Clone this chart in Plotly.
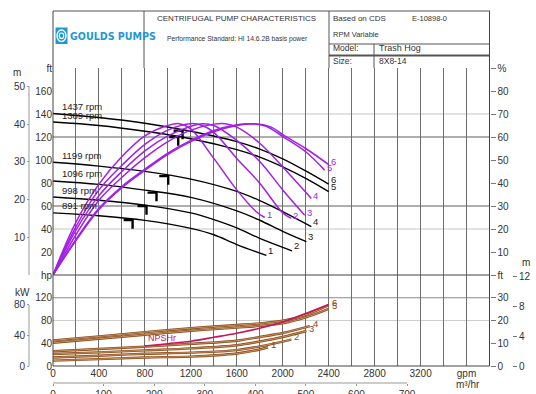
import plotly.graph_objects as go

# ---------------- data ----------------
gpm_ticks = [0, 400, 800, 1200, 1600, 2000, 2400, 2800, 3200, 3600]
gpm_text = ["0", "400", "800", "1200", "1600", "2000", "2400", "2800", "3200", "gpm"]
m3h_ticks = [0, 100, 200, 300, 400, 500, 600, 700]
ft_ticks = [20, 40, 60, 80, 100, 120, 140, 160, 180]
ft_text = ["20", "40", "60", "80", "100", "120", "140", "160", "ft"]
pct_ticks = [10, 20, 30, 40, 50, 60, 70, 80, 90]
pct_text = ["10", "20", "30", "40", "50", "60", "70", "80", "%"]
m_ticks = [10, 20, 30, 40, 50]
hp_ticks = [0, 40, 80, 120, 160]
hp_text = ["0", "40", "80", "120", "hp"]
kw_ticks = [0, 40, 80]
npsh_ft_ticks = [0, 10, 20, 30, 40]
npsh_ft_text = ["0", "10", "20", "30", "ft"]
npsh_m_ticks = [0, 4, 8, 12]

speeds = ["891 rpm", "998 rpm", "1096 rpm", "1199 rpm", "1389 rpm", "1437 rpm"]
curve_no = ["1", "2", "3", "4", "5", "6"]

# head (ft) vs flow (gpm)
head1_q = [0, 400, 800, 1200, 1400, 1600, 1858]
head1_ft = [54, 51.5, 47.5, 40.5, 35, 26.5, 17]
head2_q = [0, 400, 800, 1200, 1400, 1600, 1800, 2081]
head2_ft = [67.8, 65, 60.8, 54, 48.2, 41, 31.8, 21]
head3_q = [0, 400, 800, 1200, 1600, 1800, 2000, 2206]
head3_ft = [81.8, 78.8, 73.8, 67.5, 55.8, 47.6, 38, 29]
head4_q = [0, 400, 800, 1200, 1600, 1800, 2000, 2249]
head4_ft = [98, 94.7, 90.1, 83.4, 72.7, 64.7, 55.1, 42]
head5_q = [0, 400, 800, 1200, 1600, 1800, 2000, 2200, 2400]
head5_ft = [133, 130, 125, 118.5, 109, 102.5, 94, 84, 72.5]
head6_q = [0, 400, 800, 1200, 1600, 1800, 2000, 2200, 2400]
head6_ft = [140.5, 137, 132, 125, 116, 109.5, 101, 90.5, 79]

# efficiency (%) vs flow (gpm)
eff1_q = [0, 200, 400, 600, 800, 1000, 1100, 1200, 1400, 1600, 1770, 1843]
eff1_pct = [0, 23, 39.5, 51.5, 60.5, 65, 65.8, 63.5, 50.7, 37, 27.5, 25]
eff2_q = [0, 200, 400, 600, 800, 1000, 1200, 1300, 1400, 1600, 1800, 2000, 2075]
eff2_pct = [0, 21, 37, 47.7, 56.8, 63, 65.8, 65, 62, 50.7, 39.9, 27, 24.6]
eff3_q = [0, 200, 400, 600, 800, 1000, 1200, 1300, 1400, 1600, 1800, 2000, 2191]
eff3_pct = [0, 19.5, 34.5, 45, 54, 60.5, 64.7, 65.8, 65, 58.5, 49.3, 37, 26]
eff4_q = [0, 200, 400, 600, 800, 1000, 1200, 1400, 1500, 1600, 1800, 2000, 2249]
eff4_pct = [0, 17.5, 32.5, 42.5, 51, 58, 63, 65.6, 65.8, 64.3, 57.3, 47, 33.3]
eff5_q = [0, 200, 400, 600, 800, 1000, 1200, 1400, 1600, 1700, 1850, 2000, 2200, 2365]
eff5_pct = [0, 15.5, 29, 38.5, 46, 53, 58.5, 62.8, 65.3, 65.8, 64.8, 60.2, 53.6, 45.6]
eff6_q = [0, 200, 400, 600, 800, 1000, 1200, 1400, 1600, 1750, 1900, 2000, 2200, 2400]
eff6_pct = [0, 15, 28.5, 38, 45.5, 52.5, 58, 62.3, 65, 65.8, 64.3, 61, 55, 48]

# power (hp) vs flow (gpm)
pow1_q = [0, 400, 800, 1200, 1600, 1800, 1872]
pow1_hp = [9.5, 12, 15, 16.5, 22, 29, 33]
pow2_q = [0, 400, 800, 1200, 1600, 1800, 2075]
pow2_hp = [15, 18, 21.5, 23.5, 28, 34.5, 46.5]
pow3_q = [0, 400, 800, 1200, 1600, 1800, 2000, 2206]
pow3_hp = [21, 24, 27.5, 31, 36.5, 43, 51, 61.5]
pow4_q = [0, 400, 800, 1200, 1600, 1800, 2000, 2235]
pow4_hp = [26, 30, 34, 39, 44.5, 51, 58, 70]
pow5_q = [0, 400, 800, 1200, 1600, 1800, 2000, 2200, 2400]
pow5_hp = [41, 48, 55, 62, 67.5, 70.5, 75, 85.5, 100.5]
pow6_q = [0, 400, 800, 1200, 1600, 1800, 2000, 2200, 2400]
pow6_hp = [45, 52, 59.5, 66.5, 72, 75, 79.5, 90, 107]

# NPSHr (ft) vs flow (gpm)
npsh_q = [800, 1000, 1200, 1400, 1600, 1800, 2000, 2200, 2400]
npsh_ft = [8.8, 9.8, 10.9, 12.6, 14.4, 16.6, 19.3, 23.1, 27]

# best-efficiency markers on the head curves
bep_q = [693, 814, 901, 1003, 1090, 1128]
bep_ft = [47.8, 60, 71.6, 86, 120, 125.5]

head_q = [head1_q, head2_q, head3_q, head4_q, head5_q, head6_q]
head_ft = [head1_ft, head2_ft, head3_ft, head4_ft, head5_ft, head6_ft]
eff_q = [eff1_q, eff2_q, eff3_q, eff4_q, eff5_q, eff6_q]
eff_pct = [eff1_pct, eff2_pct, eff3_pct, eff4_pct, eff5_pct, eff6_pct]
pow_q = [pow1_q, pow2_q, pow3_q, pow4_q, pow5_q, pow6_q]
pow_hp = [pow1_hp, pow2_hp, pow3_hp, pow4_hp, pow5_hp, pow6_hp]

# ---------------- layout helpers ----------------
W, H = 536, 394


def px(v):
    return v / W


def py(v):
    return 1 - v / H


FT_PER_M = 3.28084
GPM_PER_M3H = 4.40287
KW_PER_HP = 0.7457
X_MAX = 3800

PURPLE = "#A21FE6"
BROWN = "#8B4A1C"
TAN = "#DDB07A"
CRIMSON = "#C4145C"
GRID = "#6e6e6e"
FONT = "Arial, Liberation Sans, sans-serif"
TXT = "#333333"

fig = go.Figure()

# head curves
for i in range(6):
    fig.add_trace(go.Scatter(x=head_q[i], y=head_ft[i], mode="lines",
                             line=dict(color="black", width=1.4, shape="spline"),
                             xaxis="x", yaxis="y", hoverinfo="skip", showlegend=False))

# BEP glyphs
dq, dh = 78, 7.5
gx, gy = [], []
for q, h in zip(bep_q, bep_ft):
    gx += [q - dq, q, q, None]
    gy += [h, h, h - dh, None]
fig.add_trace(go.Scatter(x=gx, y=gy, mode="lines", line=dict(color="black", width=2.4),
                         xaxis="x", yaxis="y", hoverinfo="skip", showlegend=False))

# efficiency curves
for i in range(6):
    fig.add_trace(go.Scatter(x=eff_q[i], y=eff_pct[i], mode="lines",
                             line=dict(color=PURPLE, width=1.5, shape="spline"),
                             xaxis="x", yaxis="y2", hoverinfo="skip", showlegend=False))

# power curves (double line look)
for i in range(6):
    fig.add_trace(go.Scatter(x=pow_q[i], y=pow_hp[i], mode="lines",
                             line=dict(color=BROWN, width=2.4, shape="spline"),
                             xaxis="x", yaxis="y4", hoverinfo="skip", showlegend=False))
    fig.add_trace(go.Scatter(x=pow_q[i], y=pow_hp[i], mode="lines",
                             line=dict(color=TAN, width=0.7, shape="spline"),
                             xaxis="x", yaxis="y4", hoverinfo="skip", showlegend=False))

# NPSHr
fig.add_trace(go.Scatter(x=npsh_q, y=npsh_ft, mode="lines",
                         line=dict(color=CRIMSON, width=1.6, shape="spline"),
                         xaxis="x", yaxis="y6", hoverinfo="skip", showlegend=False))

# dummy traces so that secondary axes render
for xa, ya in [("x", "y3"), ("x", "y5"), ("x", "y7"), ("x2", "y4")]:
    fig.add_trace(go.Scatter(x=[None], y=[None], xaxis=xa, yaxis=ya, mode="lines",
                             hoverinfo="skip", showlegend=False))

ann = []
# rpm labels
for i in range(6):
    ann.append(dict(x=60, y=head_ft[i][0], xref="x", yref="y", text=speeds[i],
                    xanchor="left", yanchor="middle", yshift=7, showarrow=False,
                    font=dict(size=9.5, color="#222", family=FONT)))
# end labels
for i in range(6):
    ann.append(dict(x=head_q[i][-1], y=head_ft[i][-1], xref="x", yref="y", text=curve_no[i],
                    xanchor="left", yanchor="middle", xshift=0, yshift=5, showarrow=False,
                    font=dict(size=9.5, color="#222", family=FONT)))
    ann.append(dict(x=eff_q[i][-1], y=eff_pct[i][-1], xref="x", yref="y2", text=curve_no[i],
                    xanchor="left", yanchor="middle", xshift=0, yshift=3, showarrow=False,
                    font=dict(size=9.5, color=PURPLE, family=FONT)))
    ann.append(dict(x=pow_q[i][-1], y=pow_hp[i][-1], xref="x", yref="y4", text=curve_no[i],
                    xanchor="left", yanchor="middle", xshift=1, yshift=3, showarrow=False,
                    font=dict(size=9.5, color=BROWN, family=FONT)))
ann.append(dict(x=npsh_q[0], y=npsh_ft[0], xref="x", yref="y6", text="NPSHr",
                xanchor="left", yanchor="middle", xshift=1, yshift=8, showarrow=False,
                font=dict(size=9, color=CRIMSON, family=FONT)))

# axis titles / units
def note(x, y, text, size=10, color=TXT, xanchor="center", family=FONT):
    ann.append(dict(x=px(x), y=py(y), xref="paper", yref="paper", text=text,
                    xanchor=xanchor, yanchor="middle", showarrow=False,
                    font=dict(size=size, color=color, family=family)))


note(17, 73, "m")
note(22, 292, "kW")
note(526, 262, "m")
note(468, 384, "m³/hr")

# header texts
note(236.5, 19, "CENTRIFUGAL PUMP CHARACTERISTICS", size=8)
note(237, 39, "Performance Standard: HI 14.6.2B basis power", size=6.7)
note(331, 18.5, "Based on CDS", size=8, xanchor="left")
note(410, 18.5, "E-10898-0", size=7.5, xanchor="left")
note(331, 34, "RPM Variable", size=7.5, xanchor="left")
note(331, 48.5, "Model:", size=8.5, xanchor="left")
note(377, 48.5, "Trash Hog", size=9, xanchor="left")
note(331, 61, "Size:", size=8.5, xanchor="left")
note(377, 61, "8X8-14", size=8.5, xanchor="left")
note(68, 35.5, "<b>GOULDS PUMPS</b>", size=10.6, color="#1E98D5", xanchor="left",
     family="DejaVu Sans Condensed, Liberation Sans Narrow, Arial")

shapes = []


def pline(x0, y0, x1, y1, color="#555", width=1, layer="above"):
    shapes.append(dict(type="line", xref="paper", yref="paper", x0=px(x0), y0=py(y0),
                       x1=px(x1), y1=py(y1), line=dict(color=color, width=width), layer=layer))


# header frame
pline(53, 11, 490, 11)
pline(144, 11, 144, 68)
pline(329, 11, 329, 68)
pline(329, 44, 490, 44)
pline(329, 55.5, 490, 55.5, width=1.8)
pline(374, 44, 374, 68)
# plot frame
pline(53, 11, 53, 366, color="#444")
pline(489.5, 11, 489.5, 366, color="#444")
pline(53, 366, 489.5, 366, color="#444")
pline(53, 275, 489.5, 275, color="#444", width=1.2)

# logo icon
shapes.append(dict(type="rect", xref="paper", yref="paper", x0=px(55.5), x1=px(67.5),
                   y0=py(44), y1=py(27.5), fillcolor="#1E98D5", line=dict(width=0)))
shapes.append(dict(type="circle", xref="paper", yref="paper", x0=px(57), x1=px(66),
                   y0=py(41.5), y1=py(30), line=dict(color="white", width=1.4)))
shapes.append(dict(type="circle", xref="paper", yref="paper", x0=px(59.3), x1=px(63.7),
                   y0=py(38.5), y1=py(33), line=dict(color="white", width=1.2)))

# horizontal grid lines
for val, col in [(140, "#c4c4c4"), (120, "#5e5e5e"), (60, "#5e5e5e"), (40, "#c4c4c4")]:
    shapes.append(dict(type="line", xref="paper", yref="y", x0=px(53), x1=px(489.5),
                       y0=val, y1=val, line=dict(color=col, width=1), layer="below"))
for val, col in [(120, "#8a8a8a"), (80, "#cfcfcf")]:
    shapes.append(dict(type="line", xref="paper", yref="y4", x0=px(53), x1=px(489.5),
                       y0=val, y1=val, line=dict(color=col, width=1), layer="below"))
# secondary axis lines (partial)
shapes.append(dict(type="line", xref="paper", yref="y3", x0=px(29), x1=px(29), y0=0, y1=50,
                   line=dict(color="#999", width=1)))
shapes.append(dict(type="line", xref="paper", yref="y5", x0=px(29), x1=px(29), y0=0, y1=80,
                   line=dict(color="#999", width=1)))
shapes.append(dict(type="line", xref="x2", yref="paper", x0=0, x1=700, y0=py(383), y1=py(383),
                   line=dict(color="#999", width=1)))

tickfont = dict(size=10, color=TXT, family=FONT)
up_dom = [py(275), py(68)]
lo_dom = [py(366), py(275)]
common = dict(automargin=False, zeroline=False, showline=False, showgrid=False, tickfont=tickfont)

fig.update_layout(
    width=W, height=H, margin=dict(l=0, r=0, t=0, b=0, pad=0, autoexpand=False),
    paper_bgcolor="white", plot_bgcolor="rgba(0,0,0,0)",
    font=dict(family=FONT, color=TXT),
    showlegend=False,
    xaxis=dict(domain=[px(53), px(489.5)], range=[0, X_MAX], anchor="y4",
               tickvals=gpm_ticks, ticktext=gpm_text, tickfont=tickfont, automargin=False,
               showgrid=True, gridcolor=GRID, gridwidth=1, zeroline=False, showline=False,
               ticks="", minor=dict(tick0=0, dtick=200, showgrid=True, gridcolor=GRID, gridwidth=1)),
    xaxis2=dict(overlaying="x", anchor="free", position=py(383), side="bottom",
                range=[0, X_MAX / GPM_PER_M3H], tickvals=m3h_ticks,
                ticks="outside", ticklen=2, tickcolor="#999", **common),
    yaxis=dict(domain=up_dom, range=[0, 180], anchor="x", tickvals=ft_ticks, ticktext=ft_text,
               ticks="", **common),
    yaxis2=dict(overlaying="y", side="right", anchor="x", range=[0, 90], tickvals=pct_ticks,
                ticktext=pct_text, ticks="outside", ticklen=5, tickcolor="#777", **common),
    yaxis3=dict(overlaying="y", anchor="free", position=px(29), side="left",
                range=[0, 180 / FT_PER_M], tickvals=m_ticks,
                ticks="outside", ticklen=2, tickcolor="#999", **common),
    yaxis4=dict(domain=lo_dom, range=[0, 160], anchor="x", tickvals=hp_ticks, ticktext=hp_text,
                ticks="", **common),
    yaxis5=dict(overlaying="y4", anchor="free", position=px(29), side="left",
                range=[0, 160 * KW_PER_HP], tickvals=kw_ticks,
                ticks="outside", ticklen=2, tickcolor="#999", **common),
    yaxis6=dict(overlaying="y4", side="right", anchor="x", range=[0, 40], tickvals=npsh_ft_ticks,
                ticktext=npsh_ft_text, ticks="outside", ticklen=5, tickcolor="#777", **common),
    yaxis7=dict(overlaying="y4", anchor="free", position=px(512), side="right",
                range=[0, 40 / FT_PER_M], tickvals=npsh_m_ticks,
                ticks="outside", ticklen=4, tickcolor="#777", **common),
    annotations=ann,
    shapes=shapes,
)

fig.write_html("out.html", config={"displayModeBar": False},
               post_script="document.body.style.margin='0';document.body.style.padding='0';")
